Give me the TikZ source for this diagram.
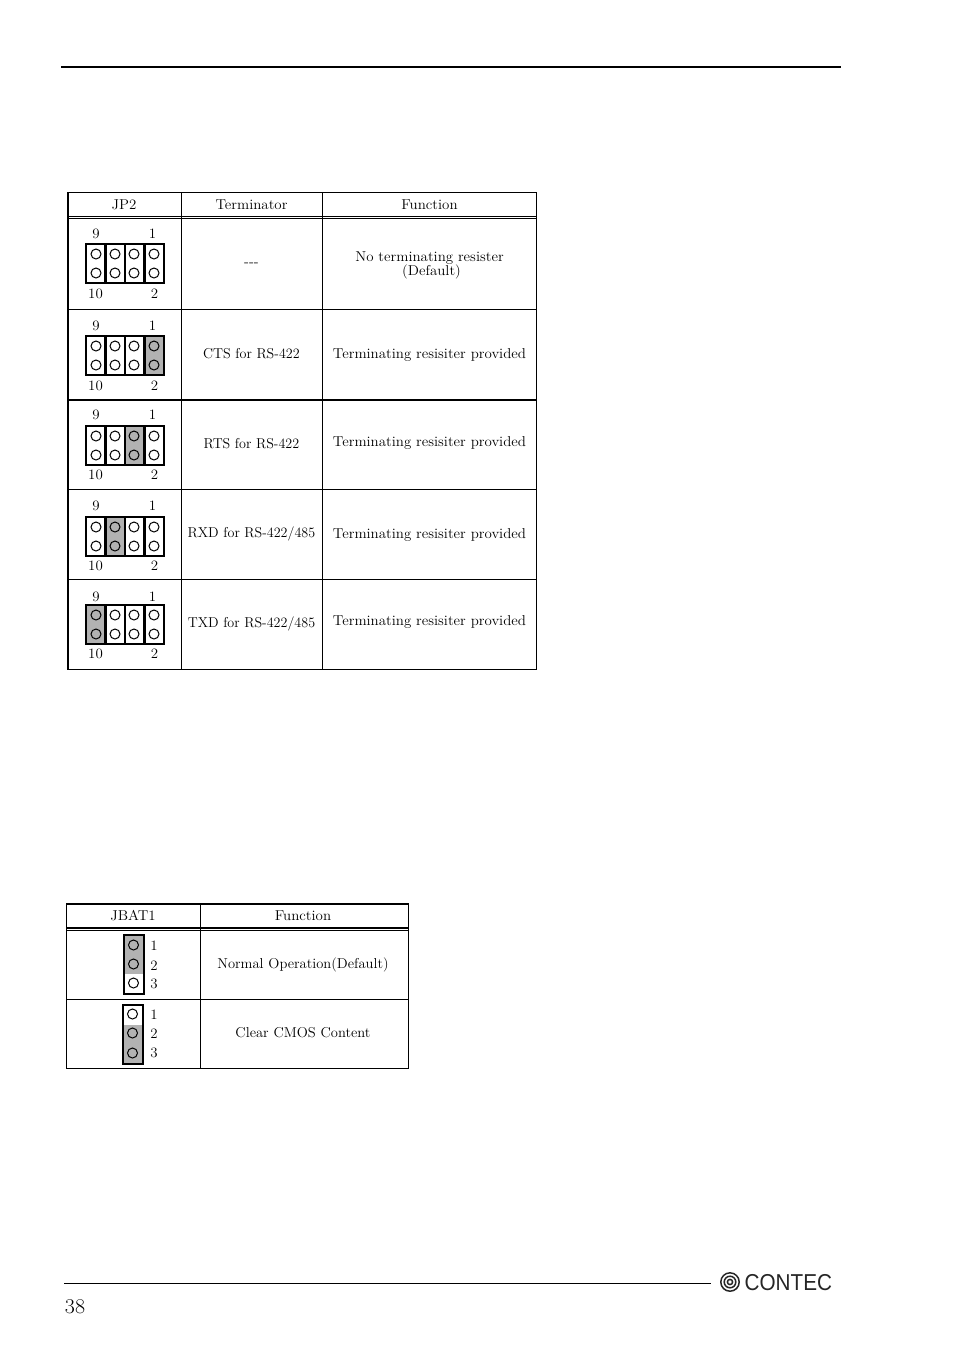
\documentclass[tikz,border=0pt]{standalone}
\usepackage{fontspec}
\newfontfamily\logofont{Liberation Sans}
\newcommand{\jumperfour}[5]{% name, top y, grey column (0 = none), upper label y, lower label y
  \ifnum#3>0
    \fill[jumpgrey] ({86+19.5*(#3-1)},#2) rectangle ++(19.5,39);
  \fi
  \draw[jumpline] (86,#2) rectangle (164,#2+39);
  \foreach \dx in {105.5,125,144.5} {\draw[jumpline] (\dx,#2) -- (\dx,#2+39);}
  \foreach \cx in {96,115,134,154} {
    \draw[pin] (\cx,#2+10) circle (5);
    \draw[pin] (\cx,#2+29) circle (5);
  }
  \node[cell] (#1a) at (96,#4) {9};
  \node[cell] (#1b) at (152.5,#4) {1};
  \node[cell] (#1c) at (95.5,#5) {10};
  \node[cell] (#1d) at (154.5,#5) {2};
}
\tikzset{
  x=1pt,y=-1pt,
  cell/.style={font=\fontsize{14.3}{15}\selectfont,xscale=1.044,align=center,inner sep=0pt,text=black},
  termcell/.style={cell,xscale=0.945},
  fncell/.style={cell,xscale=0.975},
  grid/.style={line width=1pt,black},
  thick rule/.style={line width=2pt,black},
  jumpline/.style={line width=2.6pt,black},
  pin/.style={line width=1pt,black},
  jumpgrey/.style={fill=black!30},
  pagerule/.style={line width=1pt,black},
}
\begin{document}
\begin{tikzpicture}
\useasboundingbox[fill=white] (0,0) rectangle (954,1352);
% page rules
\draw[thick rule] (61,67) -- (840.5,67);
\draw[pagerule] (64,1283.5) -- (710.5,1283.5);
\node[cell,font=\fontsize{21}{21}\selectfont] (pageno) at (75,1307) {38};
% logo
\foreach \r in {9.2,5.8,2.6} {\draw[line width=1.5pt,black!85] (730,1282) circle (\r);}
\node[anchor=west,inner sep=0pt,xscale=0.9,font=\logofont\fontsize{23}{25}\selectfont,text=black!85] (logo) at (744.5,1282.5) {CONTEC};

% table 1
\draw[grid] (68,192.5) -- (536,192.5);
\draw[grid] (68,216) -- (536,216);
\draw[grid] (68,218.5) -- (536,218.5);
\draw[grid] (68,309.5) -- (536,309.5);
\draw[line width=1.5pt] (68,400) -- (536,400);
\draw[grid] (68,489.5) -- (536,489.5);
\draw[grid] (68,579.5) -- (536,579.5);
\draw[grid] (68,669.5) -- (536,669.5);
\draw[thick rule] (68,192) -- (68,670);
\draw[grid] (181.5,192) -- (181.5,670);
\draw[grid] (322.5,192) -- (322.5,670);
\draw[grid] (536.5,192) -- (536.5,670);

\node[cell] (h1) at (124,204.5) {JP2};
\node[cell] (h2) at (251.5,204.5) {Terminator};
\node[cell] (h3) at (429.5,204.5) {Function};

\node[cell] (t1) at (251.5,265) {-{}-{}-};
\node[cell] (f1) at (429.5,265.5) {No terminating resister\\[-1pt]\hspace*{4pt}(Default)};
\node[termcell] (t2) at (251.5,353.5) {CTS for RS-422};
\node[cell] (f2) at (429.5,355) {Terminating resisiter provided};
\node[termcell] (t3) at (251.5,443.5) {RTS for RS-422};
\node[cell] (f3) at (429.5,442.5) {Terminating resisiter provided};
\node[termcell] (t4) at (251.5,533.5) {RXD for RS-422/485};
\node[cell] (f4) at (429.5,535) {Terminating resisiter provided};
\node[termcell] (t5) at (251.5,623.5) {TXD for RS-422/485};
\node[cell] (f5) at (429.5,622) {Terminating resisiter provided};

\jumperfour{ja}{244}{0}{233.5}{293.5}
\jumperfour{jb}{336}{4}{325.5}{385.5}
\jumperfour{jc}{426}{3}{414.5}{474.5}
\jumperfour{jd}{517}{2}{505.5}{565.5}
\jumperfour{je}{605}{1}{596.5}{653.5}

% table 2
\draw[thick rule] (66,904) -- (409,904);
\draw[line width=1.2pt] (66,928) -- (409,928);
\draw[grid] (66,930.5) -- (409,930.5);
\draw[grid] (66,999.5) -- (409,999.5);
\draw[grid] (66,1068.5) -- (409,1068.5);
\draw[grid] (66.5,904) -- (66.5,1069);
\draw[grid] (200.5,904) -- (200.5,1069);
\draw[grid] (408.5,904) -- (408.5,1069);

\node[cell] (h4) at (133,915.5) {JBAT1};
\node[cell] (h5) at (303,915.5) {Function};
\node[fncell] (n1) at (303,965) {Normal Operation(Default)};
\node[fncell] (n2) at (303,1032.5) {Clear CMOS Content};

% JBAT jumpers
\fill[jumpgrey] (124,935) rectangle (144,974);
\draw[jumpline] (124,935) rectangle (144,994);
\foreach \cy in {945,964,983} {\draw[pin] (133.5,\cy) circle (5);}
\node[cell] (p1) at (154,945.5) {1};
\node[cell] (p2) at (154,965.5) {2};
\node[cell] (p3) at (154,983.5) {3};

\fill[jumpgrey] (123,1025) rectangle (143,1064);
\draw[jumpline] (123,1005) rectangle (143,1064);
\foreach \cy in {1014,1033,1053} {\draw[pin] (132.5,\cy) circle (5);}
\node[cell] (q1) at (154,1014.5) {1};
\node[cell] (q2) at (154,1033.5) {2};
\node[cell] (q3) at (154,1052.5) {3};
\end{tikzpicture}
\end{document}
